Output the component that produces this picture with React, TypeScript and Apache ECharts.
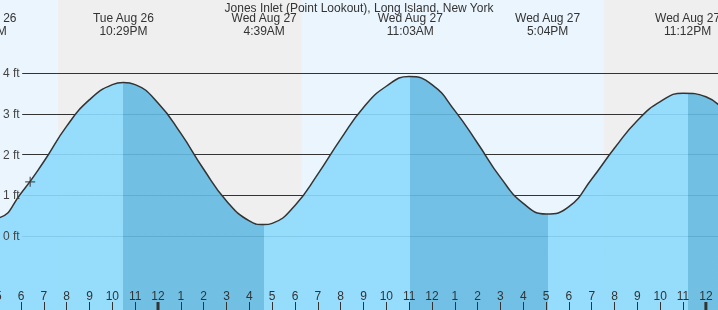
import React, { useEffect, useRef } from 'react';
import * as echarts from 'echarts';

const TITLE = 'Jones Inlet (Point Lookout), Long Island, New York';

// Tide heights (ft), hourly plus the extremes
const tideTimes = [
  '2025-08-26 16:00', '2025-08-26 17:00', '2025-08-26 18:00', '2025-08-26 19:00', '2025-08-26 20:00',
  '2025-08-26 21:00', '2025-08-26 22:00', '2025-08-26 22:29', '2025-08-26 23:00',
  '2025-08-27 00:00', '2025-08-27 01:00', '2025-08-27 02:00', '2025-08-27 03:00', '2025-08-27 04:00',
  '2025-08-27 04:39', '2025-08-27 05:00', '2025-08-27 06:00', '2025-08-27 07:00', '2025-08-27 08:00',
  '2025-08-27 09:00', '2025-08-27 10:00', '2025-08-27 11:00', '2025-08-27 12:00', '2025-08-27 13:00',
  '2025-08-27 14:00', '2025-08-27 15:00', '2025-08-27 16:00', '2025-08-27 17:00', '2025-08-27 18:00',
  '2025-08-27 19:00', '2025-08-27 20:00', '2025-08-27 21:00', '2025-08-27 22:00', '2025-08-27 23:00',
  '2025-08-28 00:00', '2025-08-28 01:00',
];
const tideHeights = [
  0.38, 0.44, 1.05, 1.83, 2.70,
  3.35, 3.72, 3.77, 3.72,
  3.27, 2.52, 1.64, 0.86, 0.37,
  0.28, 0.31, 0.75, 1.52, 2.38,
  3.16, 3.68, 3.92, 3.72, 3.08,
  2.28, 1.44, 0.80, 0.54, 0.72,
  1.40, 2.16, 2.84, 3.30, 3.51,
  3.42, 2.95,
];

const extremeTimes = ['2025-08-26 16:28', '2025-08-26 22:29', '2025-08-27 04:39', '2025-08-27 11:03', '2025-08-27 17:04', '2025-08-27 23:12'];
const extremeDays = ['Tue Aug 26', 'Tue Aug 26', 'Wed Aug 27', 'Wed Aug 27', 'Wed Aug 27', 'Wed Aug 27'];
const extremeClock = ['4:28PM', '10:29PM', '4:39AM', '11:03AM', '5:04PM', '11:12PM'];
const extremeKind = ['low', 'high', 'low', 'high', 'low', 'high'];

const nightStarts = ['2025-08-26 19:37', '2025-08-27 19:32'];
const nightEnds = ['2025-08-27 06:18', '2025-08-28 06:19'];

const heightTicks = [0, 1, 2, 3, 4];
const midnights = ['2025-08-27 00:00', '2025-08-28 00:00'];
// hour label whose tick falls just left of the visible window (shown cut off)
const edgeHourTime = '2025-08-26 17:00';
const edgeHourLabel = '5';

const nowTime = '2025-08-26 18:24';
const nowHeight = 1.33;

const viewStart = '2025-08-26 17:04:40';
const viewEnd = '2025-08-28 00:31:50';
const gridLineStart = '2025-08-26 18:03';
const heightMin = -1.82;
const heightMax = 5.8;

const FONT = '"Liberation Sans", Arial, sans-serif';
const DAY = '#ebf5fd';
const NIGHT = '#efefef';
const WATER = '#8cdafd';
const WATER_DARK = '#64bae2';

const ts = (s: string) => new Date(s.replace(' ', 'T')).getTime();

export default function App() {
  const ref = useRef<HTMLDivElement>(null);
  useEffect(() => {
    if (!ref.current) return;
    const chart = echarts.init(ref.current, undefined, { renderer: 'svg' });
    const data = tideTimes.map((t, i) => [ts(t), tideHeights[i]]);
    const et = extremeTimes.map(ts);
    const pieces: any[] = [{ lt: et[0], color: WATER_DARK }];
    for (let i = 0; i < et.length - 1; i++) {
      pieces.push({ gte: et[i], lt: et[i + 1], color: extremeKind[i] === 'high' ? WATER_DARK : WATER });
    }
    pieces.push({ gte: et[et.length - 1], color: extremeKind[et.length - 1] === 'high' ? WATER_DARK : WATER });

    const option: any = {
      animation: false,
      grid: { left: 0, right: 0, top: 0, bottom: 0, show: true, backgroundColor: DAY, borderWidth: 0 },
      xAxis: {
        type: 'time',
        min: ts(viewStart),
        max: ts(viewEnd),
        minInterval: 3600000,
        maxInterval: 3600000,
        splitNumber: 32,
        z: 10,
        axisLine: { show: false, onZero: false },
        axisTick: { show: true, inside: true, length: 8, lineStyle: { color: '#333', width: 1 } },
        axisLabel: {
          inside: true,
          margin: 8,
          color: '#333',
          fontSize: 12,
          fontFamily: FONT,
          hideOverlap: false,
          formatter: (v: number) => {
            const h = new Date(v).getHours() % 12;
            return String(h === 0 ? 12 : h);
          },
        },
        splitLine: { show: false },
      },
      yAxis: {
        type: 'value',
        min: heightMin,
        max: heightMax,
        minInterval: 1,
        maxInterval: 1,
        z: 10,
        axisLine: { show: false, onZero: false },
        axisTick: { show: false },
        splitLine: { show: false },
        axisLabel: {
          inside: true,
          margin: 3,
          color: '#444',
          fontSize: 12,
          fontFamily: FONT,
          formatter: (v: number) => (heightTicks.indexOf(v) >= 0 ? `${v} ft` : ''),
        },
      },
      visualMap: {
        type: 'piecewise',
        show: false,
        dimension: 0,
        seriesIndex: 0,
        pieces,
      },
      series: [
        {
          type: 'line',
          data,
          smooth: 0.5,
          showSymbol: false,
          silent: true,
          z: 2,
          lineStyle: { width: 0, opacity: 0 },
          areaStyle: { opacity: 0.9, origin: 'start' },
        },
        {
          type: 'line',
          data,
          smooth: 0.5,
          showSymbol: false,
          silent: true,
          z: 3,
          lineStyle: { color: '#333', width: 1.5 },
          markArea: {
            silent: true,
            z: 0,
            itemStyle: { color: NIGHT },
            data: nightStarts.map((s, i) => [{ xAxis: ts(s) }, { xAxis: ts(nightEnds[i]) }]),
          },
          markLine: {
            silent: true,
            z: 1,
            symbol: 'none',
            label: { show: false },
            lineStyle: { color: '#333', width: 1, type: 'solid' },
            data: heightTicks.map((v) => [{ coord: [ts(gridLineStart), v] }, { coord: [ts(viewEnd), v] }]),
          },
        },
        {
          type: 'scatter',
          data: [[ts(nowTime), nowHeight]],
          symbol: 'path://M0,5L10,5M5,0L5,10',
          symbolSize: 10,
          silent: true,
          z: 4,
          itemStyle: { color: 'transparent', borderColor: '#333', borderWidth: 1.2 },
        },
      ],
    };
    chart.setOption(option);

    const px = (s: string) => chart.convertToPixel({ xAxisIndex: 0 } as any, ts(s)) as number;
    const graphics: any[] = [
      {
        type: 'text',
        x: 359,
        y: 2.6,
        z: 20,
        style: { text: TITLE, textAlign: 'center', textVerticalAlign: 'top', fontSize: 12, fontFamily: FONT, fill: '#333', lineHeight: 11 },
      },
      {
        type: 'text',
        x: px(edgeHourTime),
        y: 302,
        z: 20,
        style: { text: edgeHourLabel, textAlign: 'center', textVerticalAlign: 'bottom', fontSize: 12, fontFamily: FONT, fill: '#333' },
      },
    ];
    extremeTimes.forEach((t, i) => {
      graphics.push({
        type: 'text',
        x: px(t),
        y: 11.3,
        z: 20,
        style: {
          text: `${extremeDays[i]}\n${extremeClock[i]}`,
          textAlign: 'center',
          textVerticalAlign: 'top',
          fontSize: 12,
          lineHeight: 13.3,
          fontFamily: FONT,
          fill: '#333',
        },
      });
    });
    midnights.forEach((m) => {
      graphics.push({
        type: 'rect',
        z: 20,
        shape: { x: px(m) - 1.5, y: 302, width: 3, height: 8 },
        style: { fill: '#333' },
      });
    });
    chart.setOption({ graphic: graphics });

    return () => chart.dispose();
  }, []);
  return <div ref={ref} style={{ position: 'fixed', left: 0, top: 0, width: 718, height: 310 }} />;
}
